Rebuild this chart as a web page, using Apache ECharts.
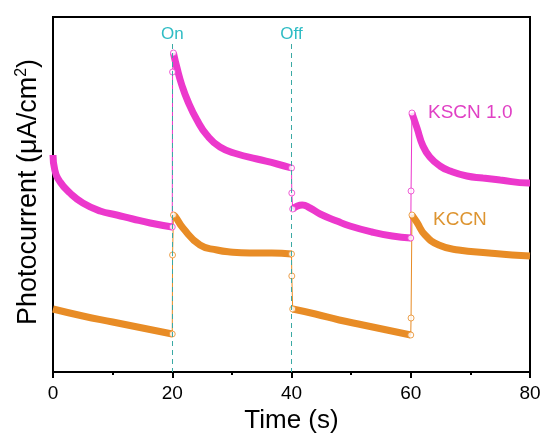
<!DOCTYPE html>
<html>
<head>
<meta charset="utf-8">
<script src="https://cdn.jsdelivr.net/npm/echarts@6/dist/echarts.min.js"></script>
<style>html,body{margin:0;padding:0;background:#fff}#c{width:544px;height:435px}</style>
</head>
<body>
<div id="c"></div>
<script>
// Time (s) ticks
const xTicks = [0, 20, 40, 60, 80];
const switchTimes = [20, 40];
const switchLabels = ['On', 'Off'];

// KSCN 1.0 segments [time, photocurrent (arb.)]
const kscnSeg1 = [[0,217],[0.3,202],[1.2,190],[2.85,179],[5.0,169],[7.9,161],[10.7,157],[13.4,153],[16.3,149],[20.0,145]];
const kscnSeg2 = [[20.2,319],[20.8,304],[21.6,287],[22.6,271],[24.15,252],[25.8,237],[28.0,225],[30.9,218],[34.2,213],[37.6,208],[40.0,204]];
const kscnSeg3 = [[40.2,163],[41.0,166],[41.8,167],[43.1,164],[44.8,158],[47.6,151],[49.8,146],[53.5,140],[56.9,136],[60.0,134]];
const kscnSeg4 = [[60.2,259],[61.05,244],[62.05,226],[63.2,215],[64.9,206],[66.6,201],[69.4,196],[72.1,194],[75.0,192],[79.7,189],[80,189]];
const kscnJumpMarks = [[20.05,300],[40.05,179],[60.05,181]];

// KCCN segments
const kccnSeg1 = [[0,63],[5,56],[10,50],[15,44],[20,38]];
const kccnSeg2 = [[20.2,157],[20.45,156],[21.8,144],[24.65,127],[27.5,122],[29.7,120],[33,119],[36.7,119],[40,118]];
const kccnSeg3 = [[40.2,63],[44,58],[48,52],[52,47],[56,42],[60,37]];
const kccnSeg4 = [[60.2,157],[61,150],[62.4,137],[64.7,127],[68,122],[73.1,119],[77,117],[80,116]];
const kccnJumpMarks = [[20.05,117],[40.05,96],[60.05,54]];

const PINK = '#ec38cc';
const ORANGE = '#e88c26';
const TEAL = '#3aa9a4';
const FONT = 'Liberation Sans, Arial, sans-serif';

function sampleSeries(name, segs, marks, color) {
  const out = [];
  segs.forEach(seg => {
    out.push({
      type: 'line', data: seg, smooth: 0.5, showSymbol: false,
      lineStyle: { color: color, width: 7 }, z: 3, silent: true
    });
  });
  const all = [];
  segs.forEach((seg, i) => {
    seg.forEach(p => all.push(p));
    if (i < marks.length) all.push(marks[i]);
  });
  all.sort((a, b) => a[0] - b[0]);
  out.push({ type: 'line', data: all, smooth: false, showSymbol: false,
    lineStyle: { color: color, width: 1 }, z: 2, silent: true });
  const markPts = [];
  segs.forEach((seg, i) => {
    if (i > 0) markPts.push(seg[0]);
    if (i < segs.length - 1) markPts.push(seg[seg.length - 1]);
  });
  marks.forEach(m => markPts.push(m));
  out.push({ type: 'scatter', data: markPts, symbol: 'circle', symbolSize: 6,
    itemStyle: { color: '#fff', borderColor: color, borderWidth: 1 }, z: 4, silent: true });
  return out;
}

const series = [].concat(
  sampleSeries('KSCN 1.0', [kscnSeg1, kscnSeg2, kscnSeg3, kscnSeg4], kscnJumpMarks, PINK),
  sampleSeries('KCCN', [kccnSeg1, kccnSeg2, kccnSeg3, kccnSeg4], kccnJumpMarks, ORANGE)
);

series.push({
  type: 'line', data: [], silent: true,
  markLine: {
    symbol: ['none', 'none'], silent: true,
    lineStyle: { color: TEAL, type: [5, 4], width: 1 },
    label: { show: true, position: 'start', color: '#2fbcc4', fontSize: 17, fontFamily: FONT, distance: 1 },
    data: switchTimes.map((t, i) => [
      { coord: [t, 328], name: switchLabels[i], label: { formatter: switchLabels[i] } },
      { coord: [t, 0] }
    ])
  }
});

const chart = echarts.init(document.getElementById('c'), null, { renderer: 'canvas' });
chart.setOption({
  animation: false,
  backgroundColor: '#fff',
  grid: { left: 53, right: 14, top: 17, bottom: 63, containLabel: false, outerBoundsMode: 'none',
    show: true, borderColor: '#000', borderWidth: 2, backgroundColor: 'transparent' },
  xAxis: {
    type: 'value', min: 0, max: 80, interval: 20,
    axisLine: { show: true, lineStyle: { color: '#000', width: 2 } },
    axisTick: { show: true, length: 6, lineStyle: { color: '#000', width: 2 } },
    minorTick: { show: true, splitNumber: 2, length: 3, lineStyle: { color: '#000', width: 2 } },
    axisLabel: { color: '#000', fontSize: 19, fontFamily: FONT, margin: 12,
      formatter: v => xTicks.indexOf(v) >= 0 ? String(v) : '' },
    splitLine: { show: false },
    name: 'Time (s)', nameLocation: 'middle', nameGap: 35,
    nameTextStyle: { color: '#000', fontSize: 26, fontFamily: FONT }
  },
  yAxis: {
    type: 'value', min: 0, max: 355,
    axisLine: { show: false }, axisTick: { show: false }, axisLabel: { show: false }, splitLine: { show: false }
  },
  graphic: [
    { type: 'text', x: 29, y: 192, rotation: Math.PI / 2,
      style: {
        text: '{a|Photocurrent (μA/cm}{s|2}{a|)}',
        rich: {
          a: { fontSize: 27, fontFamily: FONT, fill: '#000' },
          s: { fontSize: 16, fontFamily: FONT, fill: '#000', verticalAlign: 'top', padding: [0, 0, 14, 0] }
        },
        align: 'center', verticalAlign: 'middle'
      }, z: 10 },
    { type: 'text', x: 428, y: 113, style: { text: 'KSCN 1.0', fontSize: 19, fontFamily: FONT, fill: '#e040c4', verticalAlign: 'middle' }, z: 10 },
    { type: 'text', x: 433, y: 220, style: { text: 'KCCN', fontSize: 19, fontFamily: FONT, fill: '#dd9430', verticalAlign: 'middle' }, z: 10 }
  ],
  series: series
});
</script>
</body>
</html>
